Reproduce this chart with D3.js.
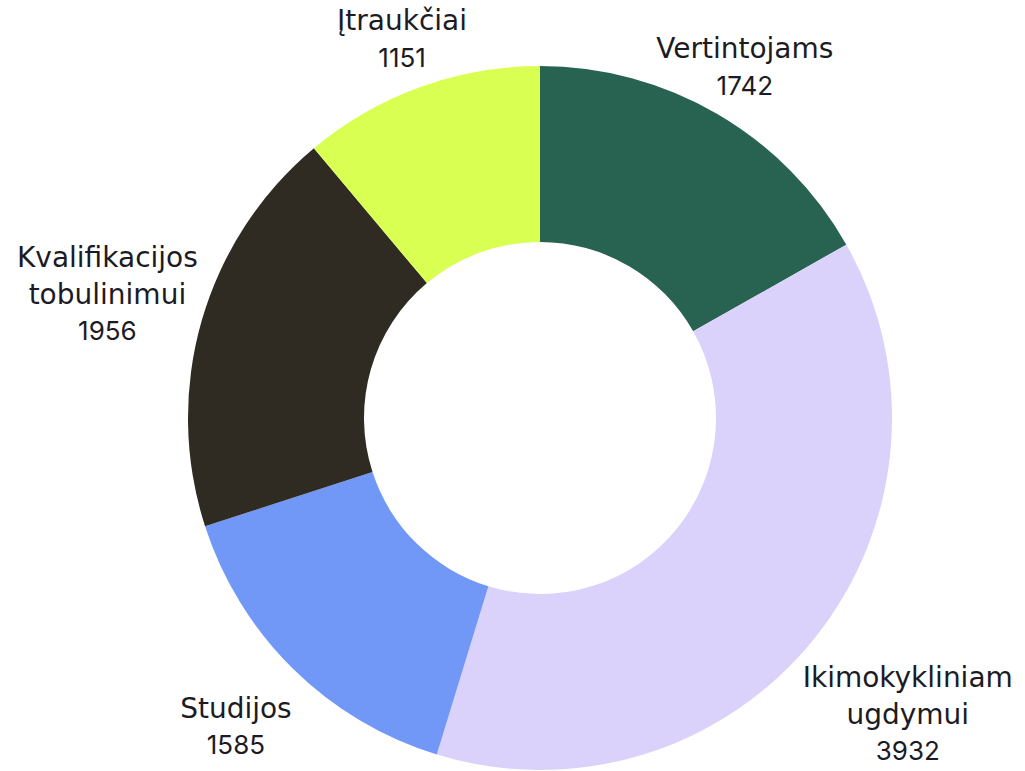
<!DOCTYPE html>
<html>
<head>
<meta charset="utf-8">
<script src="https://cdn.jsdelivr.net/npm/d3@7"></script>
<style>
body {
	margin: 0;
	background: white;
}
text {
	fill: #1c1b24;
}
.name {
	font-family: "DejaVu Sans", sans-serif;
	font-size: 28px;
}
.num {
	font-family: Inter, sans-serif;
	font-size: 26px;
}
</style>
</head>
<body>
<div id="chart"></div>
<script>

// -- data
var categories = ["Vertintojams", "Ikimokykliniam ugdymui", "Studijos", "Kvalifikacijos tobulinimui", "Įtraukčiai"];
var values = [1742, 3932, 1585, 1956, 1151];
var colors = ["#286352", "#dad2fb", "#7298f7", "#302b22", "#d9ff52"];

// -- setting
var width = 1025,
	height = 771;
var cx = 540, cy = 418;
var outerR = 352, innerR = 176;
const lineHeight = 37;

var svg = d3.select("#chart")
	.append("svg")
		.attr("width", width)
		.attr("height", height)
	.append("g")
		.attr("transform", "translate(" + cx + "," + cy + ")");

var data = categories.map((c, i) => ({name: c, value: values[i], color: colors[i]}));

var pie = d3.pie()
	.sort(null)
	.value(d => d.value);

var arc = d3.arc()
	.innerRadius(innerR)
	.outerRadius(outerR);

var arcs = pie(data);

svg.selectAll(".slice")
	.data(arcs)
	.enter()
	.append("path")
		.attr("class", "slice")
		.attr("d", arc)
		.attr("fill", d => d.data.color);

// -- labels, centred on the slice's mid angle, pushed out by the block size
svg.selectAll(".label")
	.data(arcs)
	.enter()
	.append("text")
		.attr("class", "label")
		.attr("text-anchor", "middle")
		.each(function(d) {
			var t = d3.select(this);
			var lines = d.data.name.split(" ");
			lines.forEach(l => t.append("tspan").attr("class", "name").text(l));
			t.append("tspan").attr("class", "num").text(d.data.value);

			var w = 0;
			t.selectAll("tspan").each(function() {
				w = Math.max(w, this.getComputedTextLength());
			});
			var n = lines.length + 1;
			var h = n * lineHeight;

			var a = (d.startAngle + d.endAngle) / 2;
			var ux = Math.sin(a), uy = -Math.cos(a);
			var ext = 1 / Math.sqrt(ux * ux / (w * w / 4) + uy * uy / (h * h / 4));
			var r = outerR + 13 + ext + 0.47 * h * Math.max(0, uy);
			var x = ux * r, y = uy * r;

			t.selectAll("tspan")
				.attr("x", x)
				.attr("y", (_, i) => y + (i - (n - 1) / 2) * lineHeight)
				.attr("dy", "0.36em");
		});

</script>
</body>
</html>
